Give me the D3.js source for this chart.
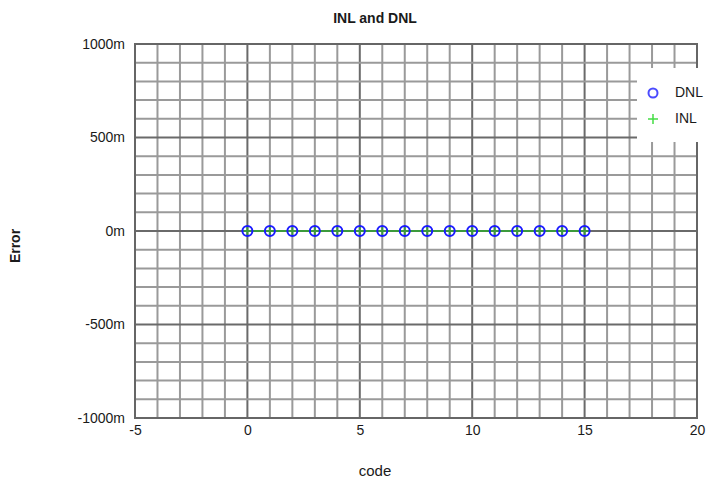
<!DOCTYPE html>
<meta charset="utf-8">
<style>
body { margin: 0; background: #fff; }
text { font-family: "Liberation Sans", Arial, sans-serif; fill: #1a1a1a; }
.tick text { font-size: 14px; }
</style>
<body>
<script src="https://cdn.jsdelivr.net/npm/d3@7"></script>
<script>

// data
var codes = d3.range(0, 16);
var dnl = [0, 0, 0, 0, 0, 0, 0, 0, 0, 0, 0, 0, 0, 0, 0, 0];
var inl = [0, 0, 0, 0, 0, 0, 0, 0, 0, 0, 0, 0, 0, 0, 0, 0];
var xTicks = [-5, 0, 5, 10, 15, 20];
var yTicks = [-1, -0.5, 0, 0.5, 1];
var legendNames = ["DNL", "INL"];

var width = 719, height = 484;
var margin = {top: 44, right: 22, bottom: 66, left: 135};

var svg = d3.select("body").append("svg")
    .attr("width", width)
    .attr("height", height);

var x = d3.scaleLinear().domain([-5, 20]).range([margin.left, width - margin.right]);
var y = d3.scaleLinear().domain([-1, 1]).range([height - margin.bottom, margin.top]);

// grid
var grid = svg.append("g");
grid.selectAll(".vx").data(d3.range(-5, 21))
  .enter().append("line")
    .attr("x1", function(d) { return x(d); })
    .attr("x2", function(d) { return x(d); })
    .attr("y1", y(-1)).attr("y2", y(1))
    .attr("stroke", function(d) { return d % 5 === 0 ? "#6a6a6a" : "#9a9a9a"; })
    .attr("stroke-width", 2);
grid.selectAll(".hy").data(d3.range(-10, 11))
  .enter().append("line")
    .attr("y1", function(d) { return y(d / 10); })
    .attr("y2", function(d) { return y(d / 10); })
    .attr("x1", x(-5)).attr("x2", x(20))
    .attr("stroke", function(d) { return d % 5 === 0 ? "#6a6a6a" : "#9a9a9a"; })
    .attr("stroke-width", 2);

svg.append("rect")
    .attr("x", x(-5)).attr("y", y(1))
    .attr("width", x(20) - x(-5)).attr("height", y(-1) - y(1))
    .attr("fill", "none")
    .attr("stroke", "#666")
    .attr("stroke-width", 2);

// axes
var xAxis = svg.append("g")
    .attr("transform", "translate(0," + y(-1) + ")")
    .call(d3.axisBottom(x).tickValues(xTicks).tickSize(0).tickPadding(7)
      .tickFormat(function(d) { return String(d); }));
xAxis.select(".domain").remove();

var yAxis = svg.append("g")
    .attr("transform", "translate(" + x(-5) + ",0)")
    .call(d3.axisLeft(y).tickValues(yTicks).tickSize(0).tickPadding(10)
      .tickFormat(function(d) { return Math.round(d * 1000) + "m"; }));
yAxis.select(".domain").remove();

// lines and markers
var pts = codes.map(function(c, i) { return {c: c, dnl: dnl[i], inl: inl[i]}; });

svg.append("path")
    .datum(pts)
    .attr("fill", "none")
    .attr("stroke", "#3c9a3c")
    .attr("stroke-width", 2)
    .attr("d", d3.line().x(function(d) { return x(d.c); }).y(function(d) { return y(d.inl); }));

svg.selectAll(".inl").data(pts)
  .enter().append("path")
    .attr("d", function(d) {
      var cx = x(d.c), cy = y(d.inl);
      return "M" + (cx - 5) + "," + cy + "H" + (cx + 5) + "M" + cx + "," + (cy - 5) + "V" + (cy + 5);
    })
    .attr("stroke", "#3c9a3c")
    .attr("stroke-width", 2);

svg.selectAll(".dnl").data(pts)
  .enter().append("circle")
    .attr("cx", function(d) { return x(d.c); })
    .attr("cy", function(d) { return y(d.dnl); })
    .attr("r", 5)
    .attr("fill", "none")
    .attr("stroke", "#1a1aff")
    .attr("stroke-width", 2);

// legend
var lg = svg.append("g");
lg.append("rect")
    .attr("x", 637).attr("y", 68)
    .attr("width", 90).attr("height", 74)
    .attr("fill", "#fff");
lg.append("circle")
    .attr("cx", 653).attr("cy", 93).attr("r", 4.5)
    .attr("fill", "none").attr("stroke", "#4b4bff").attr("stroke-width", 2);
lg.append("path")
    .attr("d", "M648,119H658M653,114V124")
    .attr("stroke", "#44dd44").attr("stroke-width", 1.5);
lg.selectAll(".lt").data(legendNames)
  .enter().append("text")
    .attr("x", 675)
    .attr("y", function(d, i) { return 97 + i * 26; })
    .style("font-size", "14px")
    .text(function(d) { return d; });

// titles
svg.append("text")
    .attr("x", 375).attr("y", 23)
    .attr("text-anchor", "middle")
    .style("font-size", "14px")
    .style("font-weight", "bold")
    .text("INL and DNL");

svg.append("text")
    .attr("x", 375).attr("y", 476)
    .attr("text-anchor", "middle")
    .style("font-size", "15px")
    .text("code");

svg.append("text")
    .attr("transform", "translate(20,246) rotate(-90)")
    .attr("text-anchor", "middle")
    .style("font-size", "14px")
    .style("font-weight", "bold")
    .text("Error");

</script>
</body>
